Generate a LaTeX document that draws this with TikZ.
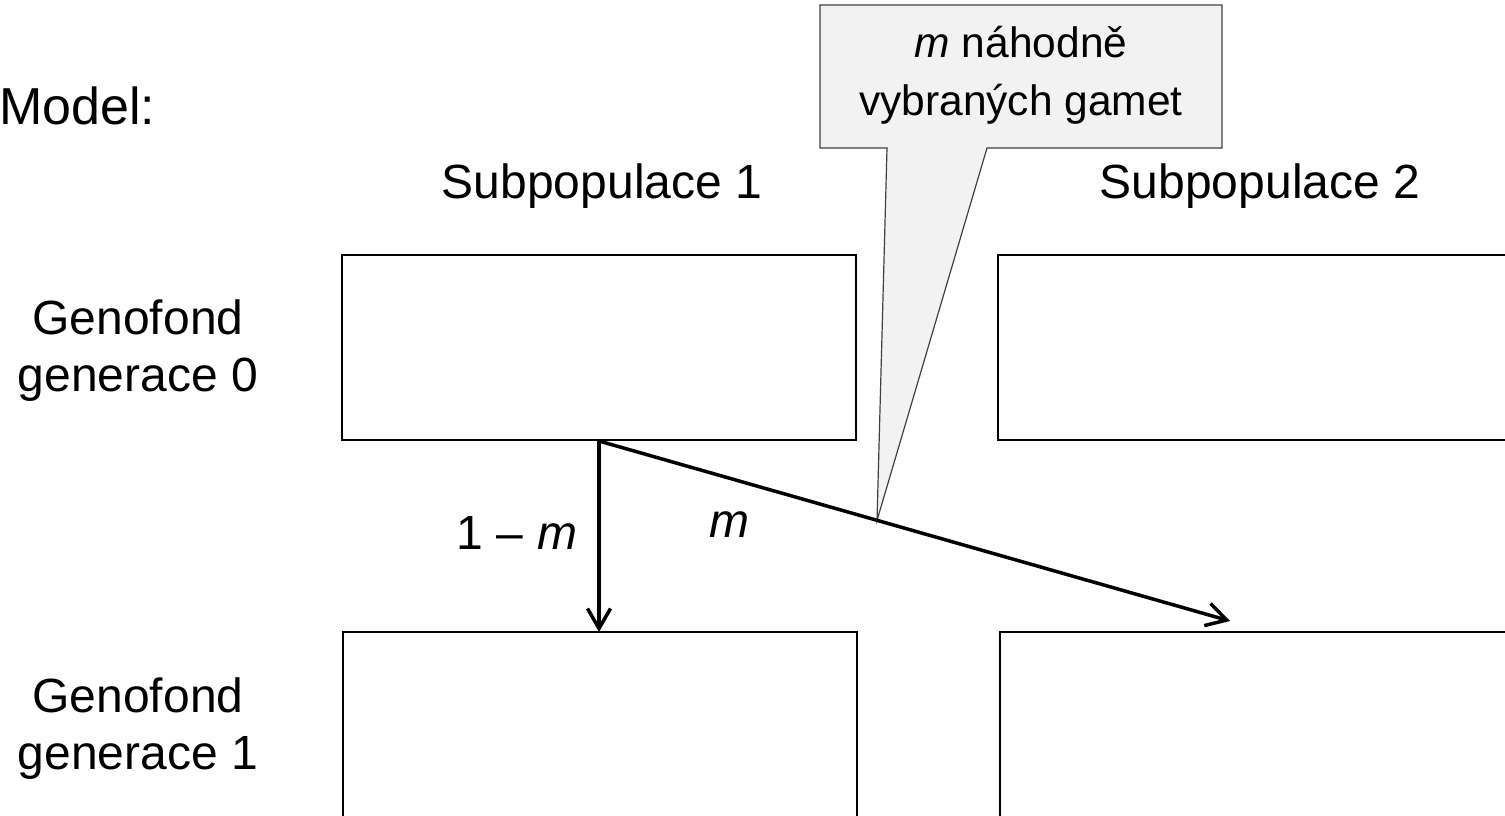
\documentclass[tikz,border=0pt]{standalone}
\usepackage{fontspec}
\setmainfont{Liberation Sans}
\usetikzlibrary{arrows.meta,calc}
\definecolor{notefill}{HTML}{F2F2F2}
\definecolor{noteline}{HTML}{404040}
\begin{document}
\begin{tikzpicture}[x=1pt,y=-1pt,
  pool/.style={draw=black, line width=2.6pt, minimum width=514pt, minimum height=185pt,
    inner sep=0pt, outer sep=0pt, anchor=north west},
  lbl/.style={font=\fontsize{48}{57}\selectfont, inner sep=0pt, outer sep=0pt},
  notetext/.style={font=\fontsize{42.5}{58}\selectfont, inner sep=0pt, align=center},
  flow/.style={line width=3.5pt, -{Straight Barb[length=20pt,width=23pt,line width=3.5pt]}},
  notebox/.style={fill=notefill, draw=noteline, line width=1.2pt, line join=miter},
]
\useasboundingbox (0,0) rectangle (1505,815);
\begin{scope}
\clip (0,0) rectangle (1505,815);
% pools
\node[pool] (p1g0) at (342,255) {};
\node[pool] (p2g0) at (998,255) {};
\node[pool] (p1g1) at (343,632) {};
\node[pool] (p2g1) at (1000,632) {};
% connector ends
\coordinate (src) at (599,441);
\coordinate (dst) at (1230,621);
\coordinate (tip) at ($(src)!0.4406!(dst)$);
% callout
\draw[notebox] (820,5) -- (1222,5) -- (1222,148) -- (987,148) -- (tip) -- (887,148) -- (820,148) -- cycle;
\node[notetext] (note) at (1021,75) {\textit{m} náhodně\\vybraných gamet};
% arrows
\draw[flow] (src) -- (src |- p1g1.north);
\draw[flow] (src) -- (dst);
\end{scope}
% labels
\node[lbl, font=\fontsize{52}{60}\selectfont, anchor=base west] (model) at (-1,124) {Model:};
\node[lbl, anchor=base] (sub1) at (602,198) {Subpopulace 1};
\node[lbl, anchor=base] (sub2) at (1260,198) {Subpopulace 2};
\node[lbl, align=center] (gen0) at (138,351) {Genofond\\generace 0};
\node[lbl, align=center] (gen1) at (138,729) {Genofond\\generace 1};
\node[lbl, anchor=base] (stay) at (517,549) {1 – \textit{m}};
\node[lbl, anchor=base] (mig) at (729,537) {\textit{m}};
\end{tikzpicture}
\end{document}
